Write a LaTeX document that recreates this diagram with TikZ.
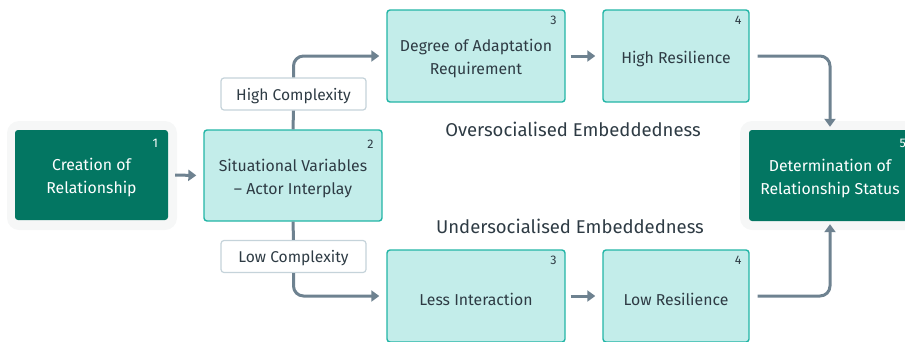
\documentclass[tikz,border=0pt]{standalone}
\usepackage{fontspec}
\setmainfont{Fira Sans}
\usetikzlibrary{arrows.meta}
\definecolor{dkgreen}{HTML}{037662}
\definecolor{ltfill}{HTML}{C3EDEA}
\definecolor{ltborder}{HTML}{22B5A6}
\definecolor{txt}{HTML}{2E3B44}
\definecolor{lblborder}{HTML}{C5D3DA}
\definecolor{conncol}{HTML}{6E8290}
\definecolor{glow}{HTML}{F6F7F7}
\tikzset{
  darkbox/.style={draw=none, fill=dkgreen, rounded corners=3pt, inner sep=0pt},
  lightbox/.style={draw=ltborder, line width=1.4pt, fill=ltfill, rounded corners=3pt, inner sep=0pt},
  boxtext/.style={align=center, font=\fontsize{15.8}{23}\selectfont, inner sep=0pt, yshift=-3pt},
  lblbox/.style={draw=lblborder, line width=1.2pt, fill=white, rounded corners=3pt, inner sep=0pt,
    minimum width=145pt, minimum height=32pt},
  lbltext/.style={font=\fontsize{15.6}{17}\selectfont, text=txt, inner sep=0pt, yshift=-2pt},
  num/.style={font=\fontsize{12.5}{12.5}\selectfont, inner sep=0pt, anchor=north east},
  heading/.style={font=\fontsize{18.5}{21}\selectfont, text=txt},
  conn/.style={draw=conncol, line width=3pt, rounded corners=10pt},
  arr/.style={conn, -{Triangle[length=8pt,width=11pt]}},
}
\begin{document}
\begin{tikzpicture}[x=1pt,y=-1pt]
\useasboundingbox (0,0) rectangle (905,341);
% glows
\fill[glow, rounded corners=12pt] (7,121) rectangle (177,230);
\fill[glow, rounded corners=12pt] (740,121) rectangle (920,230);
% nodes
\node[darkbox, minimum width=153pt, minimum height=90pt] (b1) at (91.5,175) {};
\node[boxtext, text=white] (t1) at (b1.center) {Creation of\\Relationship};
\node[lightbox, minimum width=178pt, minimum height=91pt] (b2) at (293,175.5) {};
\node[boxtext, text=txt] (t2) at (b2.center) {Situational Variables\\– Actor Interplay};
\node[lightbox, minimum width=178pt, minimum height=92pt] (b3t) at (476,56) {};
\node[boxtext, text=txt] (t3t) at (b3t.center) {Degree of Adaptation\\Requirement};
\node[lightbox, minimum width=146pt, minimum height=92pt] (b4t) at (676,56) {};
\node[boxtext, text=txt] (t4t) at (b4t.center) {High Resilience};
\node[darkbox, minimum width=162pt, minimum height=91pt] (b5) at (830,175.5) {};
\node[boxtext, text=white] (t5) at (b5.center) {Determination of\\Relationship Status};
\node[lightbox, minimum width=178pt, minimum height=92pt] (b3b) at (476,296) {};
\node[boxtext, text=txt] (t3b) at (b3b.center) {Less Interaction};
\node[lightbox, minimum width=146pt, minimum height=92pt] (b4b) at (676,296) {};
\node[boxtext, text=txt] (t4b) at (b4b.center) {Low Resilience};
\node[lblbox] (hc) at (293.5,94) {};
\node[lbltext] (thc) at (hc.center) {High Complexity};
\node[lblbox] (lc) at (293.5,256.5) {};
\node[lbltext] (tlc) at (lc.center) {Low Complexity};
\node[heading] (ho) at (573,129) {Oversocialised Embeddedness};
\node[heading] (hu) at (570,226) {Undersocialised Embeddedness};
% numbers
\node[num, text=white] (n1) at ([xshift=-10pt,yshift=-9pt]b1.north east) {1};
\node[num, text=txt] (n2) at ([xshift=-9pt,yshift=-11pt]b2.north east) {2};
\node[num, text=txt] (n3t) at ([xshift=-9pt,yshift=-7pt]b3t.north east) {3};
\node[num, text=txt] (n4t) at ([xshift=-8pt,yshift=-7pt]b4t.north east) {4};
\node[num, text=white] (n5) at ([xshift=-5pt,yshift=-9pt]b5.north east) {5};
\node[num, text=txt] (n3b) at ([xshift=-9pt,yshift=-7pt]b3b.north east) {3};
\node[num, text=txt] (n4b) at ([xshift=-8pt,yshift=-7pt]b4b.north east) {4};
% connectors
\draw[arr, shorten <=7pt, shorten >=7pt] (b1.east) -- (b2.west);
\draw[conn] (b2.north) -- (hc.south);
\draw[arr, shorten >=7pt] (hc.north) |- (b3t.west);
\draw[conn] (b2.south) -- (lc.north);
\draw[arr, shorten >=7pt] (lc.south) |- (b3b.west);
\draw[arr, shorten <=5pt, shorten >=7pt] (b3t.east) -- (b4t.west);
\draw[arr, shorten <=5pt, shorten >=7pt] (b3b.east) -- (b4b.west);
\draw[arr, shorten <=8pt, shorten >=3pt] (b4t.east) -| (b5.north);
\draw[arr, shorten <=8pt, shorten >=3pt] (b4b.east) -| (b5.south);
\end{tikzpicture}
\end{document}
